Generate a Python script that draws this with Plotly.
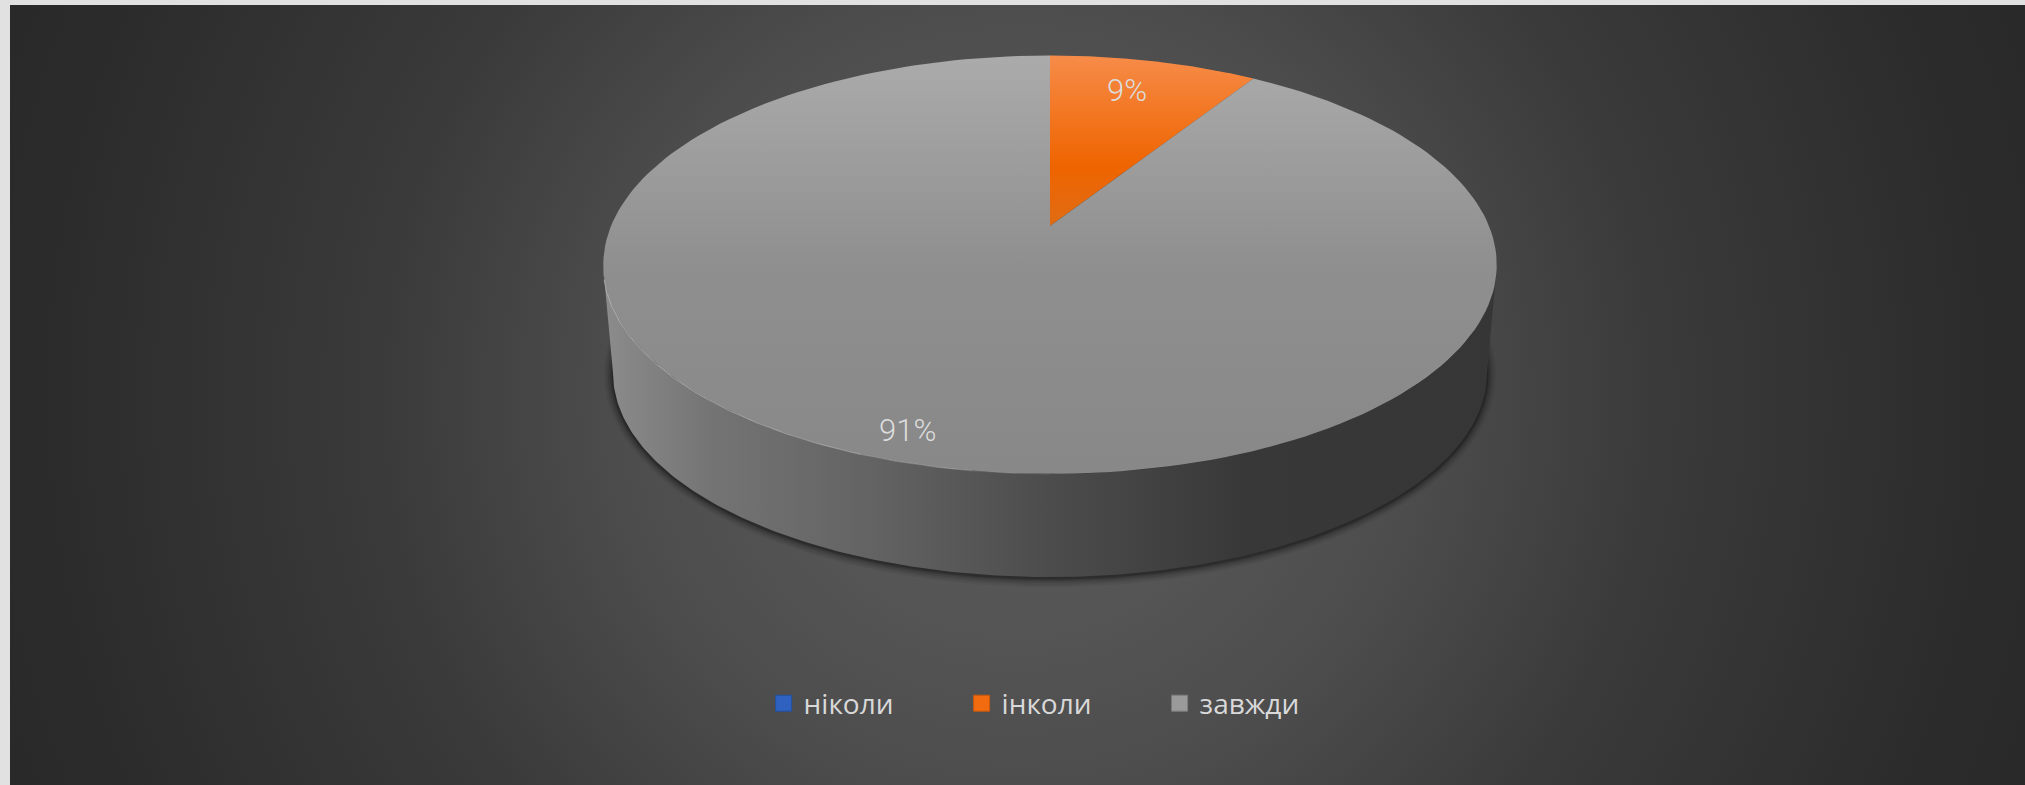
import numpy as np
import plotly.graph_objects as go

# ---- data ----
categories = ["ніколи", "інколи", "завжди"]
values = [0, 9, 91]
colors = ["#2f62c0", "#f26b0f", "#9a9a9a"]
edge_colors = ["#24509f", "#c9580c", "#7d7d7d"]

# ---- layout of the 3-D pie (pixel-valued axes) ----
W, H = 2025, 785
LEFT, TOP = 10, 5
CX, APEX_Y = 1050, 226          # where the pie's centre projects
R, A, C = 439, 202, 0.1852      # perspective constants of the top disc
TOP_E = (CX, 265, 447, 209)     # outline of the top disc
BOT_E = (CX, 373, 437, 204)     # outline of the bottom disc
LABEL_POS = {"інколи": (1127, 90), "завжди": (907, 430)}

TOP_GRADS = {
    "ніколи": [[0, "#5f8be0"], [1, "#2f62c0"]],
    "інколи": [[0, "#f68c49"], [0.65, "#ef6400"], [1, "#e06c14"]],
    "завжди": [[0, "#ababab"], [0.5, "#8f8f8f"], [1, "#888888"]],
}
GRAD_SPAN = {"ніколи": (55, 226), "інколи": (55, 226), "завжди": (55, 474)}


def project(u, v):
    d = 1 + C * v
    return CX + R * u / d, APEX_Y - A * v / d


def wedge(start, end):
    """Polygon of a slice running clockwise from 12 o'clock, in percent shares."""
    a = np.radians(np.linspace(start, end, 200) * 3.6)
    x, y = project(np.sin(a), np.cos(a))
    return np.r_[CX, x, CX], np.r_[APEX_Y, y, APEX_Y]


def arc(e, t0, t1, n=240):
    t = np.radians(np.linspace(t0, t1, n))
    return e[0] + e[2] * np.cos(t), e[1] + e[3] * np.sin(t)


fig = go.Figure()

# radial page background (oversized square, clipped by the axes)
bx, by, br = 1017, 395, 1125
fig.add_trace(go.Scatter(
    x=[bx - br, bx + br, bx + br, bx - br, bx - br],
    y=[by - br, by - br, by + br, by + br, by - br],
    mode="lines", line=dict(width=0), fill="toself", showlegend=False, hoverinfo="skip",
    fillgradient=dict(type="radial", colorscale=[
        [0, "#5a5a5a"], [0.2, "#555555"], [0.35, "#4d4d4d"],
        [0.57, "#3a3a3a"], [0.85, "#2c2c2c"], [0.95, "#292929"], [1, "#282828"]]),
))

# soft shadow under the disc
for grow, alpha in [(9, 0.05), (7, 0.07), (5, 0.1), (3, 0.14), (1.5, 0.2)]:
    sx, sy = arc((CX, BOT_E[1] + 1, BOT_E[2] + grow, BOT_E[3] + grow), 0, 360)
    fig.add_trace(go.Scatter(x=sx, y=sy, mode="lines", line=dict(width=0), fill="toself",
                             fillcolor=f"rgba(0,0,0,{alpha})", showlegend=False, hoverinfo="skip"))

# side wall
tx, ty = arc(TOP_E, 0, 180)
ux, uy = arc(BOT_E, 180, 0)
fig.add_trace(go.Scatter(
    x=np.r_[tx, ux], y=np.r_[ty, uy], mode="lines", line=dict(width=0), fill="toself",
    showlegend=False, hoverinfo="skip",
    fillgradient=dict(type="horizontal", start=603, stop=1497, colorscale=[
        [0, "#8c8c8c"], [0.12, "#747474"], [0.3, "#636363"], [0.5, "#4c4c4c"],
        [0.72, "#383838"], [1, "#363636"]]),
))

# top slices, drawn from the values
cum = np.r_[0, np.cumsum(values)]
for i, name in enumerate(categories):
    wx, wy = wedge(cum[i], cum[i + 1])
    g0, g1 = GRAD_SPAN[name]
    fig.add_trace(go.Scatter(
        x=wx, y=wy, mode="lines", line=dict(width=0), fill="toself", showlegend=False,
        name=name, text=f"{name}: {values[i]}%", hoverinfo="text",
        fillgradient=dict(type="vertical", start=g0, stop=g1, colorscale=TOP_GRADS[name]),
    ))

# thin light rim on the front-left edge, fading towards the front
for t0, t1, alpha in [(176, 140, 0.6), (140, 115, 0.5), (115, 100, 0.32), (100, 90, 0.15)]:
    rx, ry = arc(TOP_E, t0, t1, 80)
    fig.add_trace(go.Scatter(x=rx, y=ry, mode="lines",
                             line=dict(width=1, color=f"rgba(215,215,215,{alpha})"),
                             showlegend=False, hoverinfo="skip"))

# legend entries
for name, col, edge in zip(categories, colors, edge_colors):
    fig.add_trace(go.Scatter(x=[None], y=[None], mode="markers", name=name,
                             marker=dict(symbol="square", size=16, color=col, line=dict(color=edge, width=1))))

# percentage labels
annotations = [
    dict(x=LABEL_POS[n][0], y=LABEL_POS[n][1], text=f"{v}%", showarrow=False, xref="x", yref="y",
         font=dict(family="Roboto", size=31, weight=300, color="#dcdcdc"))
    for n, v in zip(categories, values) if v > 0
]

fig.update_layout(
    width=W, height=H, autosize=False,
    margin=dict(l=LEFT, r=0, t=TOP, b=0, pad=0),
    paper_bgcolor="#e1e1e1", plot_bgcolor="#2a2a2a",
    xaxis=dict(range=[LEFT, W], visible=False, fixedrange=True),
    yaxis=dict(range=[H, TOP], visible=False, fixedrange=True),
    annotations=annotations,
    hovermode="closest",
    legend=dict(orientation="h", x=0.374, xanchor="left", y=0.1045, yanchor="middle",
                entrywidth=153, entrywidthmode="pixels", bgcolor="rgba(0,0,0,0)",
                font=dict(family="Open Sans", size=28, color="#d9d9d9")),
)

fig.write_html("out.html", config={"displayModeBar": False},
               post_script="document.body.style.margin='0';")
